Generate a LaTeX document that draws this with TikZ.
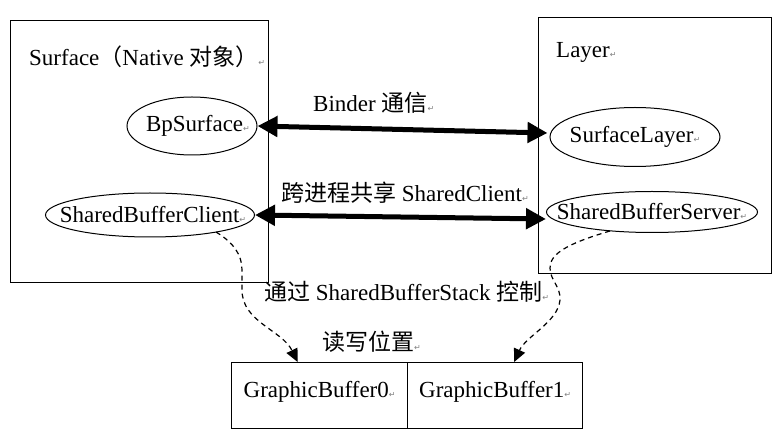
\documentclass[tikz,border=0pt]{standalone}
\usepackage{fontspec}
\setmainfont{Liberation Serif}
\newfontfamily\cjk{Noto Sans CJK SC}
\newfontfamily\symf{DejaVu Sans}
\usetikzlibrary{shapes.geometric,arrows.meta,calc}
\newcommand\pmark{{\symf\fontsize{8}{8}\selectfont\color{gray}↵}}
\begin{document}
\begin{tikzpicture}[x=1pt,y=-1pt,
  every node/.style={font=\fontsize{23}{27}\selectfont, inner sep=0pt},
  frame/.style={draw, line width=1.3pt},
  oval/.style={ellipse, draw, line width=1pt, inner sep=0pt},
  lbl/.style={anchor=west},
  bigarrow/.style={line width=5pt, {Triangle[length=20pt,width=20pt]}-{Triangle[length=20pt,width=20pt]}},
  dasharrow/.style={line width=1.2pt, dash pattern=on 5pt off 4pt, -{Triangle[length=13pt,width=12pt]}}]
\useasboundingbox (0,0) rectangle (780,438);
% frames
\node[frame, minimum width=258pt, minimum height=262pt, anchor=north west] (surf) at (10,20) {};
\node[frame, minimum width=233pt, minimum height=256pt, anchor=north west] (layer) at (538,17) {};
\node[frame, minimum width=176pt, minimum height=66pt, anchor=north west] (gb0) at (231,362) {};
\node[frame, minimum width=175pt, minimum height=66pt, anchor=north west] (gb1) at (407,362) {};
% titles
\node[lbl] (tsurf) at (29,57) {Surface{\cjk （}Native {\cjk 对象）}\pmark};
\node[lbl] (tlayer) at (556,52) {Layer\pmark};
% ellipses
\node[oval, minimum width=130pt, minimum height=58pt] (bp) at (192,126) {\makebox[0pt]{\hspace{12pt}BpSurface\pmark}};
\node[oval, minimum width=209pt, minimum height=44pt] (sbc) at (150,215) {\makebox[0pt]{\hspace{6pt}SharedBufferClient\pmark}};
\node[oval, minimum width=170pt, minimum height=59pt] (sl) at (635,137) {\makebox[0pt]{SurfaceLayer\pmark}};
\node[oval, minimum width=211pt, minimum height=41pt] (sbs) at (652,212) {\makebox[0pt]{SharedBufferServer\pmark}};
% buffer texts
\node (tgb0) at ($(gb0.center)+(0,-4)$) {GraphicBuffer0\pmark};
\node (tgb1) at ($(gb1.center)+(0,-4)$) {GraphicBuffer1\pmark};
% labels
\node[lbl] (lbinder) at (313,103) {Binder {\cjk 通信}\pmark};
\node[lbl] (lshare) at (281,193) {{\cjk 跨进程共享} SharedClient\pmark};
\node[lbl] (lstack) at (264,292) {{\cjk 通过} SharedBufferStack {\cjk 控制}\pmark};
\node[lbl] (lpos) at (322,342) {{\cjk 读写位置}\pmark};
% thick arrows
\draw[bigarrow] (bp.east) -- ($(sl.west)+(-2,-4)$);
\draw[bigarrow] (sbc.east) -- ($(sbs.west)+(0,7)$);
% dashed arrows
\coordinate (s0) at ($(sbc.center)+(66,17)$);
\coordinate (s1) at ($(sbs.center)+(-42,19)$);
\coordinate (e0) at ($(gb0.north)+(-22,0)$);
\coordinate (e1) at ($(gb1.north)+(19,0)$);
\draw[dasharrow] (s0) .. controls (234,243) and (242,255) .. (242,270) -- (242,290) .. controls (242,322) and (282,330) .. (e0);
\draw[dasharrow] (s1) .. controls (566,244) and (550,254) .. (550,268) .. controls (550,280) and (561,287) .. (560,300) .. controls (558,322) and (526,336) .. (e1);
\end{tikzpicture}
\end{document}
